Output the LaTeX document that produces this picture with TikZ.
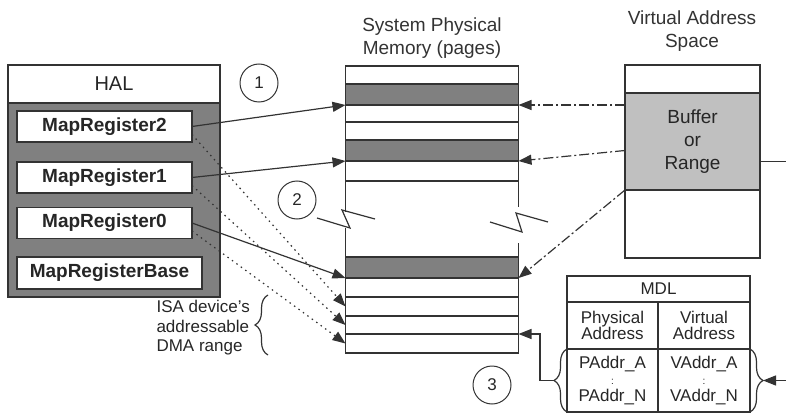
\documentclass[tikz,border=0pt]{standalone}
\usepackage{fontspec}
\setmainfont{Liberation Sans}
\usetikzlibrary{arrows.meta,positioning,calc,decorations.pathreplacing}

\definecolor{halgray}{HTML}{808080}
\definecolor{bufgray}{HTML}{C0C0C0}
\definecolor{edge}{HTML}{333333}

\begin{document}
\begin{tikzpicture}[x=1pt, y=-1pt,
    every node/.style={font=\fontsize{19}{23}\selectfont, text=black!85},
    box/.style={rectangle, draw=edge, line width=1.2pt, inner sep=0pt, outer sep=0pt, align=center},
    reg/.style={box, fill=white, minimum height=31pt, font=\bfseries\fontsize{19}{23}\selectfont},
    page/.style={box, fill=white, minimum width=173pt},
    full/.style={page, fill=halgray},
    cell/.style={box, font=\fontsize{17}{16.5}\selectfont},
    marker/.style={circle, draw=edge, line width=1pt, minimum size=38pt, inner sep=0pt, font=\fontsize{17}{20}\selectfont},
    line/.style={draw=edge, line width=1.2pt},
    arrow/.style={line, ->, >={Triangle[length=13pt,width=10pt]}},
    dotline/.style={arrow, dash pattern=on 1.5pt off 4pt},
    dashdot/.style={arrow, dash pattern=on 10pt off 3pt on 2pt off 3pt},
    curly/.style={line, decorate, decoration={brace, amplitude=13pt}}
]
\useasboundingbox (0,0) rectangle (786,414);

% HAL and its map registers
\node[box, minimum width=212pt, minimum height=38pt, font=\fontsize{20}{24}\selectfont] (halhead) at (114,84) {HAL};
\node[box, fill=halgray, line width=1.6pt, minimum width=212pt, minimum height=194pt, below=0pt of halhead] (halbody) {};
\node[reg, minimum width=175pt] (reg2) at (104.5,126.5) {MapRegister2};
\node[reg, minimum width=175pt] (reg1) at (104.5,177.5) {MapRegister1};
\node[reg, minimum width=175pt] (reg0) at (104.5,223) {MapRegister0};
\node[reg, minimum width=185pt, minimum height=32pt] (regbase) at (109.5,273) {MapRegisterBase};

% system physical memory
\node[align=center, text=edge] (memtitle) at (432,38) {System Physical\\Memory (pages)};
\node[page, minimum height=18pt] (pgA) at (432,75) {};
\node[full, minimum height=21pt, below=0pt of pgA] (pgB) {};
\node[page, minimum height=17pt, below=0pt of pgB] (pgC) {};
\node[page, minimum height=18pt, below=0pt of pgC] (pgD) {};
\node[full, minimum height=21pt, below=0pt of pgD] (pgE) {};
\node[page, minimum height=20pt, below=0pt of pgE] (pgF) {};
\node[full, minimum height=21pt] (pgG) at (432,267.5) {};
\node[page, minimum height=19pt, below=0pt of pgG] (pgH) {};
\node[page, minimum height=19pt, below=0pt of pgH] (pgI) {};
\node[page, minimum height=18pt, below=0pt of pgI] (pgJ) {};
\node[page, minimum height=19pt, below=0pt of pgJ] (pgK) {};

% broken sides
\draw[line] (pgF.south west) -- ($(pgF.south west)+(0,31)$);
\draw[line] ($(pgG.north west)+(0,-29)$) -- (pgG.north west);
\draw[line] (pgF.south east) -- ($(pgF.south east)+(0,26)$);
\draw[line] ($(pgG.north east)+(0,-14)$) -- (pgG.north east);
\draw[line] (317,218) -- (350,228) -- (342,210) -- (375,219);
\draw[line] (490,222) -- (522,232) -- (516,213) -- (548,222);

% virtual address space
\node[align=center, text=edge] (vatitle) at (692,31) {Virtual Address\\Space};
\node[box, minimum width=135pt, minimum height=28pt] (vatop) at (692.5,79) {};
\node[box, fill=bufgray, minimum width=135pt, minimum height=97pt, below=0pt of vatop] (buffer) {Buffer\\or\\Range};
\node[box, minimum width=135pt, minimum height=68pt, below=0pt of buffer] (vabot) {};

% MDL
\node[cell, minimum width=183pt, minimum height=26pt] (mdl) at (658.5,289) {MDL};
\node[cell, minimum width=91pt, minimum height=47pt, below right=0pt of mdl.south west] (phys) {Physical\\Address};
\node[cell, minimum width=92pt, minimum height=47pt, right=0pt of phys] (virt) {Virtual\\Address};
\node[cell, minimum width=91pt, minimum height=63pt, below=0pt of phys] (pdata) {PAddr\_A\\{\fontsize{10}{10}\selectfont :}\\PAddr\_N};
\node[cell, minimum width=92pt, minimum height=63pt, below=0pt of virt] (vdata) {VAddr\_A\\{\fontsize{10}{10}\selectfont :}\\VAddr\_N};
\draw[curly] (pdata.south west) -- (pdata.north west);
\draw[curly] (vdata.north east) -- (vdata.south east);
\coordinate (lcusp) at ($(pdata.west)+(-13,0)$);
\coordinate (rcusp) at ($(vdata.east)+(13,0)$);
\coordinate (mdlbend) at (540,380.5);
\coordinate (mdlin) at (786,380.5);
\coordinate (bufout) at (786,161.5);

% ISA range
\node[anchor=west, align=left, font=\fontsize{17}{19.5}\selectfont] (isa) at (153,328) {ISA device's\\addressable\\DMA range};
\draw[curly] (268,355) -- (268,295);

% step markers
\node[marker] (one) at (259,83) {1};
\node[marker] (two) at (297,200) {2};
\node[marker] (three) at (492,385) {3};

% connectors
\draw[arrow] (reg2.east) -- (pgB.south west);
\draw[arrow] (reg1.east) -- (pgE.south west);
\draw[arrow] (reg0.east) -- (pgG.south west);
\draw[dotline] ([yshift=-8pt]reg2.east) -- (pgI.west);
\draw[dotline] ([yshift=-8pt]reg1.east) -- (pgJ.west);
\draw[dotline] ([yshift=-8pt]reg0.east) -- (pgK.west);
\draw[dashdot] (buffer.west |- pgB.south east) -- (pgB.south east);
\draw[dashdot] ([yshift=-9pt]buffer.west) -- (pgE.south east);
\draw[dashdot] (buffer.south west) -- (pgG.south east);
\draw[line] (buffer.east |- bufout) -- (bufout);
\draw[arrow] (lcusp) -- (mdlbend) |- (pgK.north east);
\draw[arrow] (mdlin) -- (rcusp);

\end{tikzpicture}
\end{document}
